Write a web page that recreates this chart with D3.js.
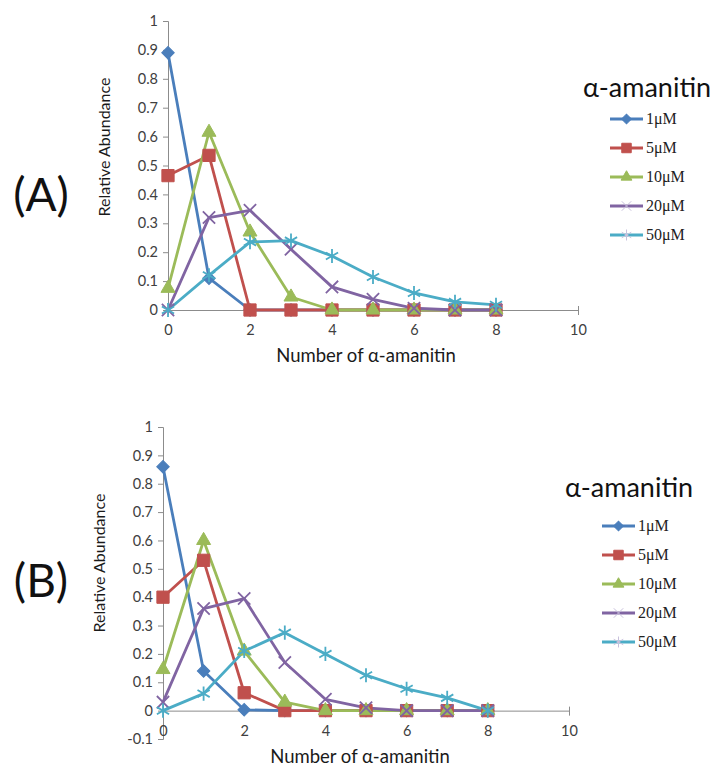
<!DOCTYPE html>
<html>
<head>
<meta charset="utf-8">
<script src="https://cdn.jsdelivr.net/npm/d3@7"></script>
<style>
  body { margin: 0; background: #fff; }
  svg { display: block; }
</style>
</head>
<body>
<div id="chart"></div>
<script>
// data
var xValues = [0, 1, 2, 3, 4, 5, 6, 7, 8];
var seriesNames = ["1\u03bcM", "5\u03bcM", "10\u03bcM", "20\u03bcM", "50\u03bcM"];
var seriesColors = ["#4a7ebb", "#c0504d", "#9bbb59", "#8064a2", "#4bacc6"];

// panel (A)
var a1uM  = [0.89, 0.11, 0, 0, 0, 0, 0, 0, 0];
var a5uM  = [0.465, 0.535, 0, 0, 0, 0, 0, 0, 0];
var a10uM = [0.075, 0.615, 0.27, 0.045, 0, 0, 0, 0, 0];
var a20uM = [0, 0.32, 0.345, 0.21, 0.08, 0.037, 0.006, 0, 0];
var a50uM = [0, 0.12, 0.235, 0.24, 0.187, 0.114, 0.059, 0.028, 0.018];

// panel (B)
var b1uM  = [0.86, 0.14, 0.003, 0, 0, 0, 0, 0, 0];
var b5uM  = [0.40, 0.53, 0.063, 0, 0, 0, 0, 0, 0];
var b10uM = [0.145, 0.60, 0.21, 0.03, 0, 0, 0, 0, 0];
var b20uM = [0.03, 0.36, 0.395, 0.17, 0.04, 0.01, 0, 0, 0];
var b50uM = [0, 0.06, 0.21, 0.275, 0.20, 0.125, 0.077, 0.045, 0];

var xTicks = [0, 2, 4, 6, 8, 10];
var yTicksA = [0, 0.1, 0.2, 0.3, 0.4, 0.5, 0.6, 0.7, 0.8, 0.9, 1];
var yTicksB = [-0.1, 0, 0.1, 0.2, 0.3, 0.4, 0.5, 0.6, 0.7, 0.8, 0.9, 1];

var svg = d3.select("#chart")
  .append("svg")
    .attr("width", 719)
    .attr("height", 769);

// diamond = square turned 45 degrees, like Excel's marker
var symbols = [d3.symbolSquare, d3.symbolSquare, d3.symbolTriangle, d3.symbolX, d3.symbolAsterisk];
var symbolRotate = [45, 0, 0, 0, 0];
var symbolSizes = [78, 150, 85, 100, 140];
var strokeSymbol = [false, false, false, true, true];

function drawPanel(p) {
  var x = d3.scaleLinear().domain([0, 10]).range([p.left, p.right]);
  var y = d3.scaleLinear().domain(p.yDomain).range([p.bottom, p.top]);

  var g = svg.append("g");

  // y axis
  var yAxis = g.append("g")
    .attr("transform", "translate(" + p.left + ",0)")
    .call(d3.axisLeft(y).tickValues(p.yTicks).tickSize(5).tickPadding(5)
      .tickFormat(function(d) { return String(+d.toFixed(1)); }));
  // x axis sits at y = 0
  var xAxis = g.append("g")
    .attr("transform", "translate(0," + y(0) + ")")
    .call(d3.axisBottom(x).tickValues(xTicks).tickSize(5).tickPadding(10));

  [yAxis, xAxis].forEach(function(ax) {
    ax.select(".domain").attr("stroke", "#8c8c8c");
    ax.selectAll(".tick line").attr("stroke", "#8c8c8c");
    ax.selectAll(".tick text")
      .attr("fill", "#404040")
      .style("font-family", "Lato, 'Open Sans', sans-serif")
      .style("font-size", "14.5px");
  });
  xAxis.selectAll(".tick line").attr("y1", -4).attr("y2", 4);

  // axis titles
  g.append("text")
    .attr("text-anchor", "middle")
    .attr("transform", "translate(" + (p.left - 58) + "," + p.yTitleY + ")rotate(-90)")
    .style("font-family", "Lato, 'Open Sans', sans-serif")
    .style("font-size", "16px")
    .attr("fill", "#1a1a1a")
    .text("Relative Abundance");
  g.append("text")
    .attr("text-anchor", "middle")
    .attr("x", p.xTitleX)
    .attr("y", p.xTitleY)
    .style("font-family", "Lato, 'Open Sans', sans-serif")
    .style("font-size", "18.5px")
    .attr("fill", "#1a1a1a")
    .text("Number of \u03b1-amanitin");

  // lines + markers
  var line = d3.line()
    .x(function(d, i) { return x(xValues[i]); })
    .y(function(d) { return y(d); });

  p.series.forEach(function(vals, k) {
    g.append("path")
      .datum(vals)
      .attr("fill", "none")
      .attr("stroke", seriesColors[k])
      .attr("stroke-width", 2.8)
      .attr("stroke-linejoin", "round")
      .attr("d", line);
  });
  p.series.forEach(function(vals, k) {
    g.append("g").selectAll("path")
      .data(vals)
      .enter()
      .append("path")
        .attr("transform", function(d, i) {
          return "translate(" + x(xValues[i]) + "," + y(d) + ")rotate(" + symbolRotate[k] + ")";
        })
        .attr("d", d3.symbol().type(symbols[k]).size(symbolSizes[k]))
        .attr("fill", strokeSymbol[k] ? "none" : seriesColors[k])
        .attr("stroke", seriesColors[k])
        .attr("stroke-width", strokeSymbol[k] ? 1.8 : 1);
  });

  // panel letter
  svg.append("text")
    .attr("x", 41)
    .attr("y", p.letterY)
    .attr("text-anchor", "middle")
    .style("font-family", "Lato, 'Open Sans', sans-serif")
    .style("font-size", "46px")
    .attr("fill", "#111")
    .text(p.letter);

  // legend
  var lg = svg.append("g");
  lg.append("text")
    .attr("x", p.legTitleX)
    .attr("y", p.legTitleY)
    .style("font-family", "Lato, 'Open Sans', sans-serif")
    .style("font-size", "27px")
    .attr("fill", "#111")
    .text("\u03b1-amanitin");
  seriesNames.forEach(function(name, k) {
    var ly = p.legY + k * 29;
    lg.append("line")
      .attr("x1", p.legX).attr("x2", p.legX + 33)
      .attr("y1", ly).attr("y2", ly)
      .attr("stroke", seriesColors[k])
      .attr("stroke-width", 2.8);
    lg.append("path")
      .attr("transform", "translate(" + (p.legX + 16.5) + "," + ly + ")rotate(" + symbolRotate[k] + ")")
      .attr("d", d3.symbol().type(symbols[k]).size(symbolSizes[k] * 0.6))
      .attr("fill", strokeSymbol[k] ? "none" : seriesColors[k])
      .attr("stroke", strokeSymbol[k] ? "#c8c0dc" : seriesColors[k])
      .attr("stroke-width", 1);
    lg.append("text")
      .attr("x", p.legX + 36)
      .attr("y", ly + 5)
      .style("font-family", "'Liberation Serif', 'Times New Roman', serif")
      .style("font-size", "16px")
      .attr("fill", "#222")
      .text(name);
  });
}

drawPanel({
  letter: "(A)", letterY: 211,
  left: 168, right: 578, top: 21, bottom: 310,
  yDomain: [0, 1], yTicks: yTicksA,
  yTitleY: 147, xTitleX: 366, xTitleY: 362,
  series: [a1uM, a5uM, a10uM, a20uM, a50uM],
  legTitleX: 583, legTitleY: 97, legX: 610, legY: 119
});

drawPanel({
  letter: "(B)", letterY: 597,
  left: 163, right: 569, top: 427, bottom: 739,
  yDomain: [-0.1, 1], yTicks: yTicksB,
  yTitleY: 563, xTitleX: 360, xTitleY: 763,
  series: [b1uM, b5uM, b10uM, b20uM, b50uM],
  legTitleX: 565, legTitleY: 497, legX: 602, legY: 526
});
</script>
</body>
</html>
